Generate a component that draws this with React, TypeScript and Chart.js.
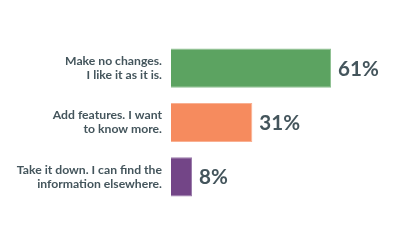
import React, { useEffect, useRef } from "react";
import { Chart, registerables } from "chart.js";

Chart.register(...registerables);

const categories: string[][] = [
  ["Make no changes.", "I like it as it is."],
  ["Add features. I want", "to know more."],
  ["Take it down. I can find the", "information elsewhere."],
];
const values: number[] = [61, 31, 8];
const valueLabels: string[] = ["61%", "31%", "8%"];
const barColors: string[] = ["#5ca361", "#f68b5e", "#734587"];
const barBorders: string[] = ["#8fc092", "#f9b092", "#9a7aaa"];

const textColor = "#44555c";

const valueLabelPlugin = {
  id: "valueLabels",
  afterDatasetsDraw(chart: any) {
    const ctx = chart.ctx;
    const meta = chart.getDatasetMeta(0);
    ctx.save();
    ctx.font = "bold 20.6px Lato";
    ctx.fillStyle = textColor;
    ctx.textAlign = "left";
    ctx.textBaseline = "middle";
    meta.data.forEach((bar: any, i: number) => {
      ctx.fillText(valueLabels[i], bar.x + 7, bar.y + 1);
    });
    ctx.restore();
  },
};

export default function App() {
  const ref = useRef<HTMLCanvasElement | null>(null);
  useEffect(() => {
    if (!ref.current) return;
    const chart = new Chart(ref.current, {
      type: "bar",
      data: {
        labels: categories,
        datasets: [
          {
            data: values,
            backgroundColor: barColors,
            borderColor: barBorders,
            borderWidth: 1,
            borderSkipped: "left",
            barPercentage: 0.9,
            categoryPercentage: 0.8,
          },
        ],
      },
      options: {
        indexAxis: "y",
        animation: false,
        responsive: true,
        maintainAspectRatio: false,
        layout: { padding: { top: 41, bottom: 46, left: 0, right: 7 } },
        plugins: {
          legend: { display: false },
          tooltip: { enabled: false },
        },
        scales: {
          x: {
            min: 0,
            max: 85,
            display: false,
            grid: { display: false },
          },
          y: {
            grid: { display: false, drawTicks: false },
            border: { display: false },
            afterFit: (scale: any) => {
              scale.width = 171;
            },
            ticks: {
              padding: 9,
              color: textColor,
              font: { family: "Lato", size: 12.2, weight: "bold", lineHeight: 1.15 },
            },
          },
        },
      },
      plugins: [valueLabelPlugin],
    });
    return () => chart.destroy();
  }, []);
  return (
    <div style={{ position: "fixed", left: 0, top: 0, width: 401, height: 250, background: "#fff" }}>
      <canvas ref={ref} />
    </div>
  );
}
